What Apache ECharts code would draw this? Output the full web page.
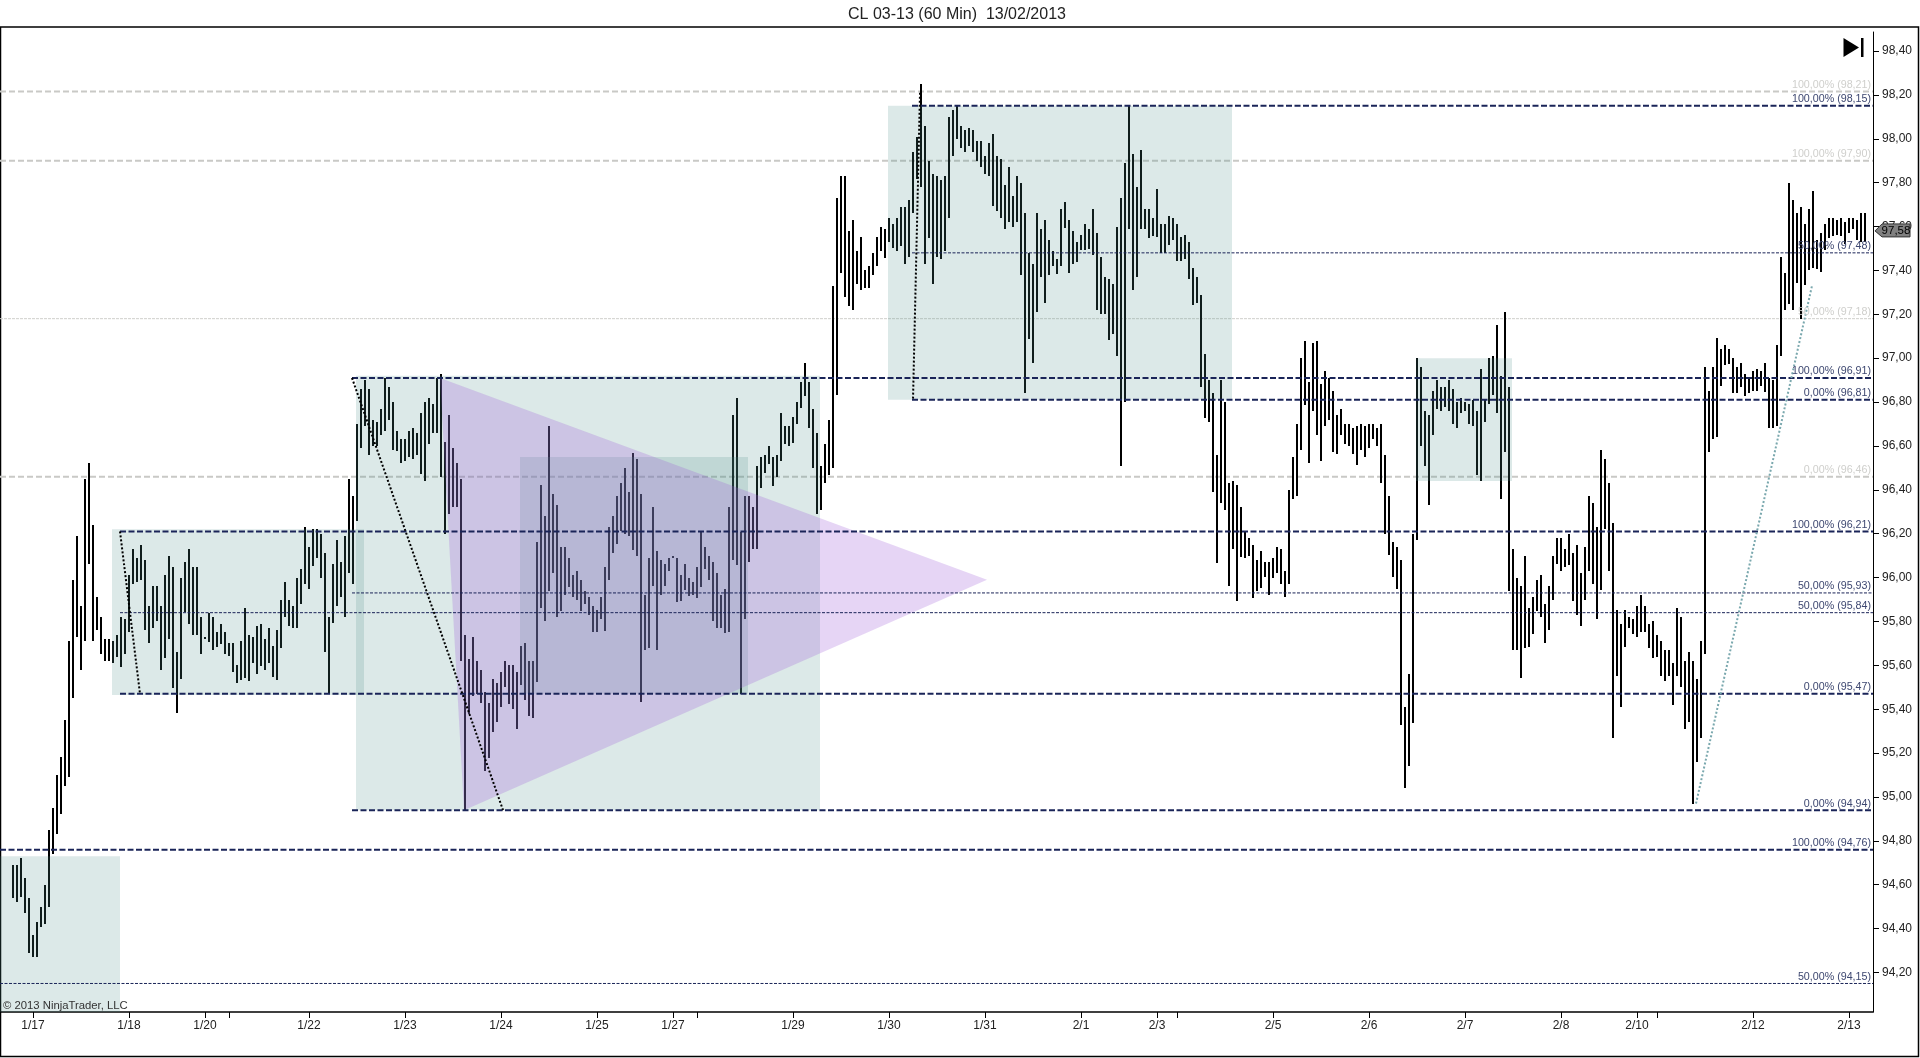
<!DOCTYPE html>
<html><head><meta charset="utf-8">
<style>html,body{margin:0;padding:0;background:#fff}#c{width:1920px;height:1058px}</style>
<script src="https://cdn.jsdelivr.net/npm/echarts@6/dist/echarts.min.js"></script>
</head><body><div id="c"></div>
<script>
const highs = [
94.69,94.69,94.72,94.63,94.54,94.37,94.43,94.50,94.60,94.85,
94.95,95.10,95.18,95.35,95.71,95.99,96.19,95.87,96.45,96.52,
96.24,95.91,95.82,95.72,95.72,95.71,95.74,95.82,95.81,96.01,
96.13,96.09,96.15,96.08,95.87,95.96,95.96,95.87,96.01,96.10,
96.05,95.66,96.00,96.07,96.13,96.05,96.05,95.82,95.73,95.84,
95.82,95.75,95.79,95.75,95.70,95.70,95.60,95.71,95.86,95.74,
95.73,95.78,95.79,95.72,95.77,95.69,95.76,95.90,95.98,95.90,
95.87,96.00,96.04,96.23,96.14,96.22,96.22,96.20,96.11,95.82,
96.06,96.17,96.07,96.19,96.45,96.37,96.70,96.86,96.90,96.86,
96.72,96.71,96.77,96.91,96.87,96.80,96.67,96.63,96.63,96.67,
96.68,96.66,96.75,96.80,96.82,96.79,96.91,96.93,96.62,96.74,
96.59,96.52,96.45,95.74,95.63,95.73,95.62,95.58,95.48,95.43,
95.54,95.52,95.57,95.62,95.60,95.60,95.57,95.69,95.70,95.62,
95.62,96.16,96.42,96.28,96.69,96.38,96.33,96.14,96.14,96.09,
96.01,96.03,95.99,95.94,95.91,95.87,95.85,95.91,96.05,96.23,
96.28,96.37,96.43,96.50,96.39,96.57,96.54,96.38,95.92,96.09,
96.32,96.12,96.08,96.06,96.09,96.10,96.09,96.01,96.06,96.00,
95.98,96.05,96.21,96.14,96.10,96.07,96.02,95.92,95.95,96.32,
96.74,96.82,96.21,96.37,96.37,96.32,96.51,96.55,96.56,96.60,
96.55,96.56,96.75,96.69,96.69,96.73,96.80,96.89,96.98,96.89,
96.77,96.66,96.51,96.61,96.72,97.33,97.73,97.83,97.83,97.58,
97.63,97.49,97.55,97.40,97.42,97.48,97.55,97.60,97.59,97.64,
97.61,97.64,97.69,97.69,97.72,97.94,98.01,98.25,98.06,97.90,
97.84,97.83,97.81,97.83,98.10,98.13,98.15,98.06,98.04,98.05,
98.04,97.99,97.99,97.92,97.98,98.02,97.92,97.91,97.79,97.87,
97.74,97.83,97.80,97.66,97.48,97.43,97.66,97.59,97.63,97.54,
97.49,97.45,97.68,97.71,97.63,97.58,97.53,97.56,97.61,97.59,
97.68,97.57,97.46,97.37,97.36,97.34,97.60,97.73,97.89,98.15,
97.93,97.78,97.95,97.68,97.68,97.64,97.77,97.61,97.61,97.65,
97.64,97.61,97.55,97.56,97.53,97.41,97.37,97.29,97.02,96.90,
96.84,96.56,96.90,96.80,96.43,96.44,96.42,96.32,96.21,96.18,
96.15,96.08,96.12,96.07,96.07,96.09,96.14,96.13,96.03,96.40,
96.55,96.70,97.00,97.08,96.89,97.07,97.08,96.88,96.94,96.91,
96.85,96.74,96.77,96.70,96.70,96.68,96.69,96.70,96.69,96.70,
96.70,96.68,96.70,96.56,96.37,96.16,96.14,96.08,95.41,95.56,
96.20,97.00,96.96,96.76,96.74,96.85,96.90,96.87,96.87,96.90,
96.86,96.80,96.82,96.80,96.79,96.81,96.76,96.95,96.81,97.00,
97.01,97.15,96.92,97.21,96.87,96.13,96.00,95.96,96.10,95.86,
95.91,95.99,96.01,95.88,95.96,96.10,96.18,96.18,96.13,96.20,
96.11,96.15,96.02,96.14,96.37,96.34,96.23,96.58,96.54,96.43,
96.25,95.85,95.79,95.85,95.82,95.81,95.87,95.92,95.87,95.79,
95.80,95.74,95.71,95.67,95.67,95.61,95.86,95.82,95.62,95.66,
95.62,95.54,95.71,96.96,96.85,96.96,97.09,97.04,97.06,97.04,
97.00,96.96,96.98,96.93,96.91,96.94,96.95,96.94,96.98,96.91,
96.90,97.06,97.46,97.39,97.80,97.72,97.66,97.69,97.61,97.68,
97.76,97.54,97.57,97.61,97.64,97.64,97.63,97.64,97.62,97.64,
97.64,97.63,97.66,97.66];
const lows = [
94.54,94.52,94.54,94.47,94.29,94.27,94.27,94.41,94.42,94.50,
94.74,94.83,94.92,95.05,95.09,95.45,95.73,95.58,95.71,96.06,
95.71,95.76,95.65,95.62,95.62,95.61,95.64,95.59,95.65,95.75,
95.97,95.98,95.99,95.76,95.70,95.77,95.80,95.58,95.63,95.72,
95.50,95.38,95.54,95.84,95.79,95.74,95.74,95.65,95.72,95.71,
95.67,95.68,95.70,95.65,95.64,95.57,95.52,95.53,95.54,95.53,
95.61,95.56,95.60,95.58,95.61,95.55,95.53,95.68,95.82,95.78,
95.77,95.77,95.88,95.97,95.95,96.05,96.09,96.00,95.66,95.47,
95.79,95.87,95.91,95.82,96.02,95.97,96.26,96.59,96.69,96.56,
96.60,96.60,96.65,96.67,96.72,96.58,96.58,96.52,96.53,96.55,
96.54,96.56,96.47,96.44,96.61,96.66,96.66,96.46,96.20,96.29,
96.32,96.32,95.62,94.94,95.38,95.46,95.47,95.43,95.12,95.18,
95.30,95.34,95.41,95.50,95.42,95.40,95.31,95.51,95.44,95.37,
95.36,95.52,95.86,95.80,95.94,96.02,95.82,95.85,95.92,95.96,
95.91,95.90,95.85,95.88,95.83,95.75,95.75,95.81,95.76,95.99,
96.11,96.15,96.21,96.20,96.19,96.13,96.10,95.43,95.67,95.68,
95.96,95.67,95.92,95.96,96.03,96.09,95.89,95.89,95.94,95.92,
95.92,95.91,95.96,96.04,95.99,95.80,95.77,95.77,95.75,95.75,
96.08,96.06,95.47,95.81,96.07,96.13,96.13,96.41,96.48,96.52,
96.42,96.46,96.53,96.61,96.60,96.61,96.70,96.77,96.83,96.68,
96.50,96.29,96.31,96.43,96.47,96.50,96.83,97.39,97.28,97.24,
97.22,97.34,97.31,97.32,97.32,97.38,97.42,97.49,97.46,97.53,
97.50,97.49,97.51,97.43,97.46,97.66,97.82,97.78,97.43,97.55,
97.34,97.46,97.45,97.49,97.64,97.92,98.00,97.96,97.94,97.97,
97.94,97.90,97.87,97.84,97.83,97.69,97.67,97.64,97.59,97.62,
97.60,97.62,97.38,96.84,97.09,96.98,97.21,97.37,97.25,97.38,
97.42,97.38,97.42,97.59,97.39,97.43,97.44,97.49,97.49,97.50,
97.47,97.22,97.20,97.20,97.08,97.11,97.01,96.51,96.80,97.59,
97.31,97.37,97.59,97.59,97.55,97.56,97.55,97.48,97.48,97.52,
97.54,97.44,97.44,97.45,97.36,97.24,97.25,96.87,96.73,96.71,
96.39,96.07,96.34,96.31,95.96,96.13,95.89,96.09,96.09,96.10,
95.91,95.94,95.95,96.00,95.92,96.00,96.02,95.97,95.91,95.97,
96.36,96.37,96.58,96.79,96.52,96.76,96.65,96.53,96.69,96.72,
96.57,96.56,96.65,96.61,96.60,96.56,96.51,96.58,96.55,96.59,
96.63,96.60,96.43,96.20,96.10,96.00,95.95,95.33,95.04,95.14,
95.34,96.17,96.60,96.51,96.33,96.65,96.77,96.76,96.78,96.76,
96.70,96.68,96.75,96.76,96.70,96.69,96.47,96.44,96.71,96.79,
96.83,96.75,96.36,96.57,95.94,95.67,95.67,95.54,95.68,95.68,
95.74,95.85,95.82,95.70,95.76,95.90,96.06,96.03,96.05,96.06,
95.89,95.83,95.78,95.90,96.03,95.97,95.81,95.94,96.22,96.03,
95.27,95.55,95.41,95.68,95.77,95.74,95.73,95.75,95.75,95.68,
95.63,95.64,95.55,95.53,95.55,95.42,95.55,95.50,95.31,95.34,
94.97,95.16,95.27,95.65,96.57,96.63,96.64,96.87,96.97,96.97,
96.84,96.84,96.87,96.83,96.84,96.85,96.85,96.87,96.85,96.68,
96.68,96.69,97.01,97.22,97.25,97.22,97.34,97.18,97.33,97.40,
97.41,97.41,97.39,97.49,97.55,97.56,97.56,97.56,97.52,97.57,
97.59,97.54,97.53,97.53];

const axisMinI = -3.25, axisMaxI = 465;
const priceMin = 94.02, priceMax = 98.4866;
const priceTicks = [94.2,94.4,94.6,94.8,95.0,95.2,95.4,95.6,95.8,96.0,96.2,96.4,96.6,96.8,97.0,97.2,97.4,97.6,97.8,98.0,98.2,98.4];
const dateTickIdx = [5,29,48,74,98,122,146,165,195,219,243,267,286,315,339,363,387,406,435,459];
const dateTickNames = ['1/17','1/18','1/20','1/22','1/23','1/24','1/25','1/27','1/29','1/30','1/31','2/1','2/3','2/5','2/6','2/7','2/8','2/10','2/12','2/13'];
const extraTickIdx = [54,171,291,411];

const boxI0 = [-3.25,24.75,85.75,126.75,218.75,350.75];
const boxI1 = [26.75,87.75,201.75,183.75,304.75,374.75];
const boxTop = [94.73,96.22,96.92,96.55,98.15,97.00];
const boxBot = [94.02,95.465,94.94,95.47,96.81,96.44];

const triI = [106.75,112.75,243.5];
const triV = [96.91,94.94,95.99];

const levelValues = [98.215,97.90,97.18,96.46,98.15,96.91,96.81,96.21,95.47,94.94,94.76,97.48,95.93,95.84,94.15];
const levelTexts = ['100,00% (98,21)','100,00% (97,90)','50,00% (97,18)','0,00% (96,46)','100,00% (98,15)','100,00% (96,91)','0,00% (96,81)','100,00% (96,21)','0,00% (95,47)','0,00% (94,94)','100,00% (94,76)','50,00% (97,48)','50,00% (95,93)','50,00% (95,84)','50,00% (94,15)'];
const levelStart = [-3.25,-3.25,-3.25,-3.25,224.75,84.75,224.75,26.75,26.75,84.75,-3.25,224.75,84.75,26.75,-3.25];
const levelKind = ['g','g','gt','g','n','n','n','n','n','n','n','nt','nt','nt','nt'];

const trendFrom = [[26.75,96.21],[84.75,96.91],[226.75,98.21],[420.75,94.97]];
const trendTo = [[31.75,95.47],[122.5,94.94],[225,96.81],[449.75,97.33]];
const trendColor = ['#000','#000','#000','#7aa8ae'];

const lastPrice = 97.58;
const lastText = '97,58';

const kinds = {
  g:{color:'#c9c9c6',width:2,type:[6,3],label:'#cfcfcc'},
  gt:{color:'#cfcfcc',width:1,type:[3,1],label:'#cfcfcc'},
  n:{color:'#1a2458',width:2,type:[6,2.5],label:'#3d4770'},
  nt:{color:'#1a2458',width:1,type:[3,1.5],label:'#3d4770'}
};
const series = [];
levelValues.forEach((v,k)=>{
  if(levelKind[k][0]!=='g')return;
  const s=kinds[levelKind[k]];
  series.push({type:'line',silent:true,symbol:'none',z:1,animation:false,
    data:[[levelStart[k],v],[axisMaxI,v]],lineStyle:{color:s.color,width:s.width,type:s.type}});
});
series.push({type:'custom',silent:true,z:2,animation:false,
  encode:{x:0,y:[1,2]},
  data:highs.map((h,i)=>[i,h,lows[i]]),
  renderItem(p,api){
    const a=api.coord([api.value(0),api.value(1)]),b=api.coord([api.value(0),api.value(2)]);
    return {type:'rect',shape:{x:a[0]-1,y:Math.round(a[1]),width:2,height:Math.max(1,Math.round(b[1]-a[1]))},style:{fill:'#000'}};
  }});
series.push({type:'custom',silent:true,z:3,animation:false,
  encode:{x:[0,1],y:[2,3]},
  data:boxI0.map((v,i)=>[v,boxI1[i],boxTop[i],boxBot[i]]),
  renderItem(p,api){
    const a=api.coord([api.value(0),api.value(2)]),b=api.coord([api.value(1),api.value(3)]);
    return {type:'rect',shape:{x:a[0],y:a[1],width:b[0]-a[0],height:b[1]-a[1]},style:{fill:'rgba(80,145,140,0.2)'}};
  }});
series.push({type:'custom',silent:true,z:4,animation:false,
  encode:{x:0,y:1},
  data:[[triI[0],triV[0],triI[1],triV[1],triI[2],triV[2]]],
  renderItem(p,api){
    const pts=[0,2,4].map(k=>api.coord([api.value(k),api.value(k+1)]));
    return {type:'polygon',shape:{points:pts},style:{fill:'rgba(156,88,216,0.25)'}};
  }});
trendFrom.forEach((f,k)=>{
  series.push({type:'line',silent:true,symbol:'none',z:6,animation:false,
    data:[f,trendTo[k]],lineStyle:{color:trendColor[k],width:2,type:[2,2]}});
});
levelValues.forEach((v,k)=>{
  if(levelKind[k][0]==='g')return;
  const s=kinds[levelKind[k]];
  series.push({type:'line',silent:true,symbol:'none',z:5,animation:false,
    data:[[levelStart[k],v],[axisMaxI,v]],lineStyle:{color:s.color,width:s.width,type:s.type}});
});
series.push({type:'custom',silent:true,z:7,animation:false,
  encode:{x:0,y:1},
  data:levelValues.map((v,k)=>[axisMaxI,v,k]),
  renderItem(p,api){
    const c=api.coord([api.value(0),api.value(1)]),k=api.value(2);
    return {type:'text',x:c[0]-2,y:c[1]-1,style:{text:levelTexts[k],fill:kinds[levelKind[k]].label,
      font:'10.7px "Liberation Sans"',align:'right',verticalAlign:'bottom'}};
  }});
series.push({type:'custom',silent:true,z:8,animation:false,clip:false,
  encode:{x:0,y:1},
  data:[[axisMaxI,lastPrice]],
  renderItem(p,api){
    const c=api.coord([api.value(0),api.value(1)]);
    const x=c[0],y=c[1];
    return {type:'group',children:[
      {type:'polygon',shape:{points:[[x+2,y],[x+9,y-7],[x+37,y-7],[x+37,y+6],[x+9,y+6]]},style:{fill:'#808080',stroke:'#333',lineWidth:1}},
      {type:'text',x:x+23,y:y,style:{text:lastText,fill:'#000',font:'11.5px "Liberation Sans"',align:'center',verticalAlign:'middle'}}
    ]};
  }});

const chart = echarts.init(document.getElementById('c'),null,{renderer:'canvas'});
chart.setOption({
  animation:false,
  backgroundColor:'#fff',
  title:{text:'CL 03-13 (60 Min)  13/02/2013',left:952,top:2,textAlign:'center',
    textStyle:{fontFamily:'Liberation Sans',fontSize:16,fontWeight:'normal',color:'#222'}},
  grid:{left:0,top:32,width:1873,height:980,containLabel:false},
  xAxis:{type:'value',min:axisMinI,max:axisMaxI,splitLine:{show:false},
    axisLine:{show:true,onZero:false,lineStyle:{color:'#000',width:1.5}},
    axisTick:{show:true,length:6,lineStyle:{color:'#000',width:1},customValues:dateTickIdx.concat(extraTickIdx)},
    axisLabel:{customValues:dateTickIdx,margin:8,color:'#222',fontFamily:'Liberation Sans',fontSize:12,
      formatter:v=>dateTickNames[dateTickIdx.indexOf(v)]||''}},
  yAxis:{type:'value',position:'right',min:priceMin,max:priceMax,splitLine:{show:false},
    axisLine:{show:true,onZero:false,lineStyle:{color:'#000',width:1}},
    axisTick:{show:true,length:6,lineStyle:{color:'#000',width:1},customValues:priceTicks},
    axisLabel:{customValues:priceTicks,margin:9,color:'#222',fontFamily:'Liberation Sans',fontSize:12,
      formatter:v=>v.toFixed(2).replace('.',',')}},
  graphic:[
    {type:'rect',silent:true,z:0,shape:{x:0.5,y:27,width:1918,height:1029.5},style:{fill:null,stroke:'#000',lineWidth:1.5}},
    {type:'polygon',silent:true,z:10,shape:{points:[[1843.5,38],[1859,47.5],[1843.5,57]]},style:{fill:'#000'}},
    {type:'rect',silent:true,z:10,shape:{x:1861,y:38,width:2.5,height:19},style:{fill:'#000'}},
    {type:'text',silent:true,z:10,x:3,y:1000,style:{text:'© 2013 NinjaTrader, LLC',fill:'#333',font:'11.3px "Liberation Sans"'}}
  ],
  series
});
</script></body></html>
